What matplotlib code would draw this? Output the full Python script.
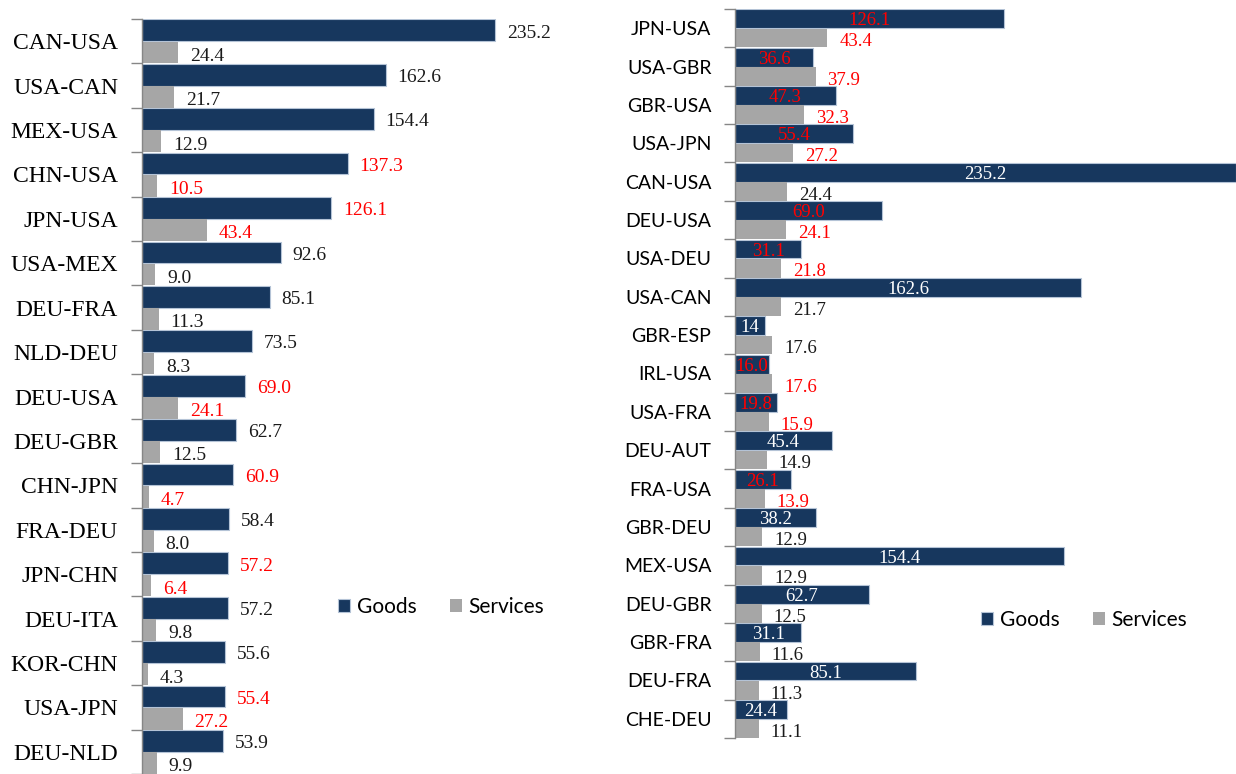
import numpy as np
import matplotlib
matplotlib.use("Agg")
import matplotlib.pyplot as plt

# left panel: top bilateral flows
left_pairs = ['CAN-USA', 'USA-CAN', 'MEX-USA', 'CHN-USA', 'JPN-USA', 'USA-MEX',
              'DEU-FRA', 'NLD-DEU', 'DEU-USA', 'DEU-GBR', 'CHN-JPN', 'FRA-DEU',
              'JPN-CHN', 'DEU-ITA', 'KOR-CHN', 'USA-JPN', 'DEU-NLD']
left_goods = [235.2, 162.6, 154.4, 137.3, 126.1, 92.6, 85.1, 73.5, 69.0, 62.7,
              60.9, 58.4, 57.2, 57.2, 55.6, 55.4, 53.9]
left_services = [24.4, 21.7, 12.9, 10.5, 43.4, 9.0, 11.3, 8.3, 24.1, 12.5,
                 4.7, 8.0, 6.4, 9.8, 4.3, 27.2, 9.9]
left_red = [0, 0, 0, 1, 1, 0, 0, 0, 1, 0, 1, 0, 1, 0, 0, 1, 0]

# right panel
right_pairs = ['JPN-USA', 'USA-GBR', 'GBR-USA', 'USA-JPN', 'CAN-USA', 'DEU-USA',
               'USA-DEU', 'USA-CAN', 'GBR-ESP', 'IRL-USA', 'USA-FRA', 'DEU-AUT',
               'FRA-USA', 'GBR-DEU', 'MEX-USA', 'DEU-GBR', 'GBR-FRA', 'DEU-FRA',
               'CHE-DEU']
right_goods = [126.1, 36.6, 47.3, 55.4, 235.2, 69.0, 31.1, 162.6, 14, 16.0, 19.8,
               45.4, 26.1, 38.2, 154.4, 62.7, 31.1, 85.1, 24.4]
right_goods_text = ['126.1', '36.6', '47.3', '55.4', '235.2', '69.0', '31.1', '162.6',
                    '14', '16.0', '19.8', '45.4', '26.1', '38.2', '154.4', '62.7',
                    '31.1', '85.1', '24.4']
right_services = [43.4, 37.9, 32.3, 27.2, 24.4, 24.1, 21.8, 21.7, 17.6, 17.6, 15.9,
                  14.9, 13.9, 12.9, 12.9, 12.5, 11.6, 11.3, 11.1]
right_red = [1, 1, 1, 1, 0, 1, 1, 0, 0, 1, 1, 0, 1, 0, 0, 0, 0, 0, 0]

NAVY = '#17375e'
GREY = '#a6a6a6'
EDGE = '#b4c3d6'
RED = '#ff0000'
SERIF = 'Liberation Serif'
SANS = 'Lato'

W, H = 1236, 774
fig = plt.figure(figsize=(W / 100, H / 100), dpi=100)


def setup(ax, pairs, font, size):
    n = len(pairs)
    y = np.arange(n)
    ax.set_ylim(n - 0.5, -0.5)
    ax.set_yticks(y)
    ax.set_yticklabels(pairs, fontfamily=font, fontsize=size)
    # ticks sit between categories
    ax.set_yticks(np.arange(n + 1) - 0.5, minor=True)
    ax.tick_params(axis='y', which='major', length=0, pad=17)
    ax.tick_params(axis='y', which='minor', length=8, color='#868686', width=1)
    ax.set_xticks([])
    for s in ['top', 'right', 'bottom']:
        ax.spines[s].set_visible(False)
    ax.spines['left'].set_color('#868686')
    ax.spines['left'].set_linewidth(1)
    return y


# ---- left
ax1 = fig.add_axes([141.7 / W, 0, 405.5 / W, (H - 19) / H])
y = setup(ax1, left_pairs, SERIF, 17)
ax1.set_xlim(0, 270)
h = 0.49
g1 = ax1.barh(y - h / 2, left_goods, height=h, color=NAVY, edgecolor=EDGE, linewidth=0.8, label='Goods')
s1 = ax1.barh(y + h / 2 + 0.01, left_services, height=h, color=GREY, linewidth=0, label='Services')
for i in range(len(left_pairs)):
    c = RED if left_red[i] else '#1a1a1a'
    ax1.annotate(f'{left_goods[i]:.1f}', (left_goods[i], y[i] - h / 2), xytext=(8.5, -2),
                 textcoords='offset points', va='center', ha='left', color=c,
                 fontfamily=SERIF, fontsize=14)
    ax1.annotate(f'{left_services[i]:.1f}', (left_services[i], y[i] + h / 2), xytext=(8.5, -3),
                 textcoords='offset points', va='center', ha='left', color=c,
                 fontfamily=SERIF, fontsize=14)
fig.legend(handles=[g1, s1], labels=['Goods', 'Services'], loc='center',
           bbox_to_anchor=(441 / W, 1 - 607 / H), bbox_transform=fig.transFigure,
           ncol=2, frameon=False, handlelength=0.6, handleheight=0.6,
           handletextpad=0.3, columnspacing=1.6, prop={'family': SANS, 'size': 15})

# ---- right
ax2 = fig.add_axes([735 / W, (H - 738) / H, 501 / W, (738 - 9) / H])
y = setup(ax2, right_pairs, SANS, 14)
ax2.set_xlim(0, 235.2)
g2 = ax2.barh(y - h / 2, right_goods, height=h, color=NAVY, edgecolor=EDGE, linewidth=0.8, label='Goods')
s2 = ax2.barh(y + h / 2 + 0.01, right_services, height=h, color=GREY, linewidth=0, label='Services')
for i in range(len(right_pairs)):
    red = right_red[i]
    ax2.annotate(right_goods_text[i], (right_goods[i] / 2, y[i] - h / 2), xytext=(0, -1.5),
                 textcoords='offset points', va='center', ha='center',
                 color=RED if red else 'white', fontfamily=SERIF, fontsize=13.5)
    ax2.annotate(f'{right_services[i]:.1f}', (right_services[i], y[i] + h / 2), xytext=(8.5, -3),
                 textcoords='offset points', va='center', ha='left',
                 color=RED if red else '#1a1a1a', fontfamily=SERIF, fontsize=13.5)
fig.legend(handles=[g2, s2], labels=['Goods', 'Services'], loc='center',
           bbox_to_anchor=(1084 / W, 1 - 620 / H), bbox_transform=fig.transFigure,
           ncol=2, frameon=False, handlelength=0.6, handleheight=0.6,
           handletextpad=0.3, columnspacing=1.6, prop={'family': SANS, 'size': 15})

fig.savefig('out.png', dpi=100)
